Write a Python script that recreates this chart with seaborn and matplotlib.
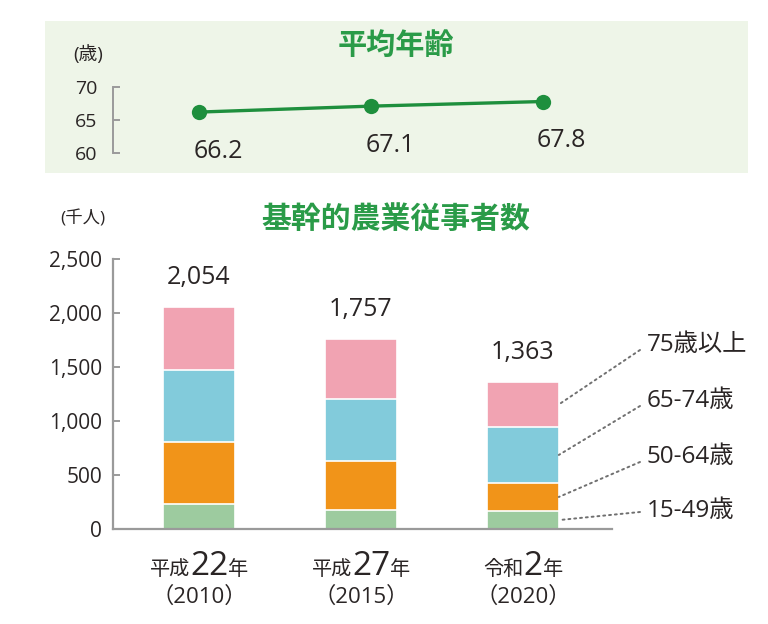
import matplotlib
matplotlib.use("Agg")
import matplotlib.pyplot as plt
import seaborn as sns
import numpy as np
import pandas as pd
from matplotlib.patches import Rectangle
from matplotlib.transforms import IdentityTransform

# ---------------- data ----------------
periods = ["2010", "2015", "2020"]
era_names = ["平成", "平成", "令和"]
era_years = ["22", "27", "2"]
western_years = ["（2010）", "（2015）", "（2020）"]
avg_age = [66.2, 67.1, 67.8]
age_labels = ["15-49歳", "50-64歳", "65-74歳", "75歳以上"]
age_15_49 = [231, 172, 165]
age_50_64 = [574, 460, 263]
age_65_74 = [668, 573, 515]
age_75_up = [581, 552, 420]
totals = [2054, 1757, 1363]
age_ticks = [60, 65, 70]
count_ticks = [0, 500, 1000, 1500, 2000, 2500]

# ---------------- style ----------------
sns.set_style("white")
plt.rcParams['font.family'] = ['Open Sans', 'Noto Sans CJK JP', 'DejaVu Sans']
CJK = ['Noto Sans CJK JP', 'DejaVu Sans']
TXT = "#2a2525"
GREEN = "#1e8f3d"
TITLE_GREEN = "#2a9b48"
SPINE = "#9a9a9a"
colors = ["#9dcb9f", "#f19419", "#82cbdb", "#f1a3b2"]

W, H = 768, 624
fig = plt.figure(figsize=(W / 100, H / 100), dpi=100)
fig.patch.set_facecolor("white")

def fx(px):
    return px / W

def fy(py):
    return 1 - py / H

# top panel background
fig.patches.append(Rectangle((fx(45), fy(173)), fx(748) - fx(45), fy(21) - fy(173),
                             transform=fig.transFigure, facecolor="#eef5e8",
                             edgecolor="none", zorder=-10))

# ---------------- top: average age ----------------
ax1 = fig.add_axes([fx(113), fy(153), fx(748) - fx(113), fy(87) - fy(153)])
ax1.set_facecolor("none")
ax1.set_zorder(2)
df_age = pd.DataFrame({"pos": [0, 1, 2], "age": avg_age})
sns.lineplot(data=df_age, x="pos", y="age", ax=ax1, color=GREEN, lw=2.4,
             marker="o", markersize=11, markeredgewidth=0, clip_on=False)
ax1.set_ylim(60, 70)
ax1.set_xlim(-0.50, 3.195)
ax1.set_yticks(age_ticks)
ax1.set_yticklabels([str(t) for t in age_ticks])
ax1.set_xticks([])
ax1.set_xlabel("")
ax1.set_ylabel("")
for s in ["top", "right", "bottom"]:
    ax1.spines[s].set_visible(False)
ax1.spines["left"].set_color(SPINE)
ax1.spines["left"].set_linewidth(1.4)
ax1.tick_params(axis="y", left=True, direction="in", length=5, width=1.4, color=SPINE,
                pad=11, labelsize=14, labelcolor=TXT)
for i, v in enumerate(avg_age):
    ax1.annotate(f"{v:.1f}", xy=(i, v), xytext=(-4, -33), textcoords="offset points",
                 ha="left", va="baseline", fontsize=18, color=TXT)

fig.text(fx(396), fy(45), "平均年齢", ha="center", va="center", fontsize=21,
         fontweight="bold", color=TITLE_GREEN, family=CJK)
fig.text(fx(88), fy(55), "(歳)", ha="center", va="center", fontsize=13.5, color=TXT)

# ---------------- bottom: stacked bars ----------------
ax2 = fig.add_axes([fx(113), fy(529), fx(612) - fx(113), fy(259) - fy(529)])
ax2.set_facecolor("none")
layers = [age_15_49, age_50_64, age_65_74, age_75_up]
cum = np.cumsum(np.array(layers), axis=0)
BAR_W = 0.443
for k in range(3, -1, -1):
    sns.barplot(x=periods, y=cum[k], order=periods, color=colors[k], ax=ax2,
                width=BAR_W, edgecolor="white", linewidth=1.2, saturation=1)
ax2.set_xlim(-0.531, 2.55)
ax2.set_ylim(0, 2500)
ax2.set_yticks(count_ticks)
ax2.set_yticklabels([f"{t:,}" for t in count_ticks])
ax2.set_xticks([])
ax2.set_xlabel("")
ax2.set_ylabel("")
for s in ["top", "right"]:
    ax2.spines[s].set_visible(False)
for s in ["left", "bottom"]:
    ax2.spines[s].set_color(SPINE)
    ax2.spines[s].set_linewidth(1.6)
    ax2.spines[s].set_zorder(5)
ax2.tick_params(axis="y", left=True, direction="in", length=5, width=1.4, color=SPINE,
                pad=8, labelsize=15, labelcolor=TXT)

for i, t in enumerate(totals):
    ax2.annotate(f"{t:,}", xy=(i, t), xytext=(0, 16.5), textcoords="offset points",
                 ha="center", va="baseline", fontsize=18, color=TXT)

# leader lines + labels for the last bar
label_y = [511, 457, 401, 345]
line_end_y = [512, 462, 406, 350]
last = len(periods) - 1
prev = np.concatenate([[0], cum[:-1, last]])
for k in range(4):
    mid = prev[k] + layers[k][last] / 2
    ax2.annotate("", xy=(last + BAR_W / 2, mid), xycoords="data",
                 xytext=(fx(640), fy(line_end_y[k])), textcoords="figure fraction",
                 arrowprops=dict(arrowstyle="-", linestyle=(0, (1, 2.0)), color="#707070",
                                 lw=1.4, shrinkA=0, shrinkB=0, capstyle="round"))
    fig.text(fx(647), fy(label_y[k]), age_labels[k], ha="left", va="center",
             fontsize=17.5, color=TXT)

fig.text(fx(396), fy(219), "基幹的農業従事者数", ha="center", va="center", fontsize=21.5,
         fontweight="bold", color=TITLE_GREEN, family=CJK)
fig.text(fx(83), fy(219), "(千人)", ha="center", va="center", fontsize=12.5, color=TXT)

# composite x tick labels
fig.canvas.draw()
renderer = fig.canvas.get_renderer()
for i in range(len(periods)):
    cx = ax2.transData.transform((i, 0))[0]
    parts = [(era_names[i], 14.5), (era_years[i], 24), ("年", 14.5)]
    texts = []
    for s, fs in parts:
        t = fig.text(0, 0, s, transform=IdentityTransform(), fontsize=fs, color=TXT,
                     ha="left", va="baseline")
        texts.append(t)
    widths = [t.get_window_extent(renderer).width for t in texts]
    x = cx - sum(widths) / 2
    base = H - 575
    for t, w in zip(texts, widths):
        t.set_position((x, base))
        x += w
    fig.text(cx, H - 603, western_years[i], transform=IdentityTransform(), fontsize=16,
             color=TXT, ha="center", va="baseline")

fig.savefig("out.png", dpi=100, facecolor="white")
